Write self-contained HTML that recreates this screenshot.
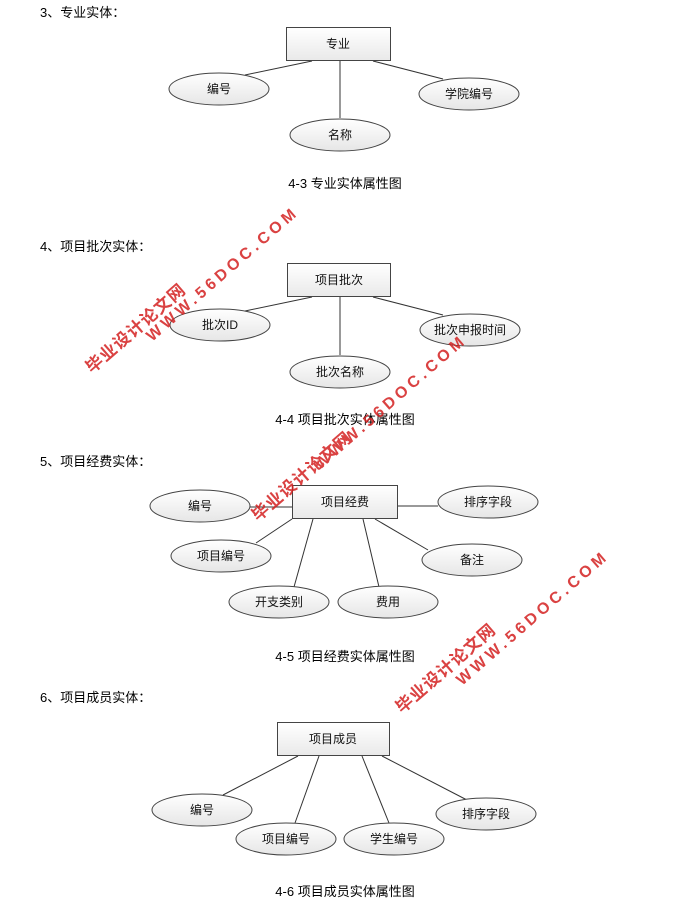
<!DOCTYPE html>
<html><head><meta charset="utf-8"><style>
html,body{margin:0;padding:0;background:#fff;}
svg{display:block}
text{font-family:"Liberation Sans","Noto Sans CJK SC",sans-serif;}
</style></head><body>
<svg width="682" height="913" viewBox="0 0 682 913" xmlns="http://www.w3.org/2000/svg">
<defs>
<linearGradient id="eg" x1="0" y1="0" x2="0" y2="1"><stop offset="0" stop-color="#ffffff"/><stop offset="1" stop-color="#e6e6e6"/></linearGradient>
<linearGradient id="rg" x1="0" y1="0" x2="0" y2="1"><stop offset="0" stop-color="#ffffff"/><stop offset="1" stop-color="#e9e9e9"/></linearGradient>
</defs>
<g font-size="13" fill="#000">
<text x="40" y="17">3、专业实体：</text>
<text x="40" y="251">4、项目批次实体：</text>
<text x="40" y="466">5、项目经费实体：</text>
<text x="40" y="702">6、项目成员实体：</text>
</g>
<g font-size="13" text-anchor="middle" font-family="Liberation Serif,Noto Serif CJK SC,serif">
<text x="345" y="188">4-3 专业实体属性图</text>
<text x="345" y="424">4-4 项目批次实体属性图</text>
<text x="345" y="661">4-5 项目经费实体属性图</text>
<text x="345" y="896">4-6 项目成员实体属性图</text>
</g>
<g stroke="#333" stroke-width="1" fill="none">
<line x1="312" y1="61" x2="245" y2="75"/><line x1="373" y1="61" x2="443" y2="79"/><line x1="340" y1="61" x2="340" y2="118"/>
<line x1="312" y1="297" x2="245" y2="311"/><line x1="373" y1="297" x2="443" y2="315"/><line x1="340" y1="297" x2="340" y2="355"/>
<line x1="250" y1="507" x2="292" y2="507"/><line x1="397" y1="506" x2="438" y2="506"/><line x1="292" y1="519" x2="256" y2="543"/><line x1="375" y1="519" x2="428" y2="550"/><line x1="313" y1="519" x2="294" y2="587"/><line x1="363" y1="519" x2="379" y2="587"/>
<line x1="298" y1="756" x2="223" y2="795"/><line x1="319" y1="756" x2="295" y2="823"/><line x1="362" y1="756" x2="389" y2="823"/><line x1="382" y1="756" x2="467" y2="800"/>
</g>
<g stroke="#444" stroke-width="1" fill="url(#rg)">
<rect x="286.5" y="27.5" width="104" height="33"/>
<rect x="287.5" y="263.5" width="103" height="33"/>
<rect x="292.5" y="485.5" width="105" height="33"/>
<rect x="277.5" y="722.5" width="112" height="33"/>
</g>
<g stroke="#444" stroke-width="1" fill="url(#eg)">
<ellipse cx="219" cy="89" rx="50" ry="16"/><ellipse cx="469" cy="94" rx="50" ry="16"/><ellipse cx="340" cy="135" rx="50" ry="16"/>
<ellipse cx="220" cy="325" rx="50" ry="16"/><ellipse cx="470" cy="330" rx="50" ry="16"/><ellipse cx="340" cy="372" rx="50" ry="16"/>
<ellipse cx="200" cy="506" rx="50" ry="16"/><ellipse cx="488" cy="502" rx="50" ry="16"/><ellipse cx="221" cy="556" rx="50" ry="16"/><ellipse cx="472" cy="560" rx="50" ry="16"/><ellipse cx="279" cy="602" rx="50" ry="16"/><ellipse cx="388" cy="602" rx="50" ry="16"/>
<ellipse cx="202" cy="810" rx="50" ry="16"/><ellipse cx="286" cy="839" rx="50" ry="16"/><ellipse cx="394" cy="839" rx="50" ry="16"/><ellipse cx="486" cy="814" rx="50" ry="16"/>
</g>
<g font-size="12" text-anchor="middle" fill="#111">
<text x="338" y="48">专业</text>
<text x="219" y="93">编号</text><text x="469" y="98">学院编号</text><text x="340" y="139">名称</text>
<text x="339" y="284">项目批次</text>
<text x="220" y="329">批次ID</text><text x="470" y="334">批次申报时间</text><text x="340" y="376">批次名称</text>
<text x="345" y="506">项目经费</text>
<text x="200" y="510">编号</text><text x="488" y="506">排序字段</text><text x="221" y="560">项目编号</text><text x="472" y="564">备注</text><text x="279" y="606">开支类别</text><text x="388" y="606">费用</text>
<text x="333" y="743">项目成员</text>
<text x="202" y="814">编号</text><text x="286" y="843">项目编号</text><text x="394" y="843">学生编号</text><text x="486" y="818">排序字段</text>
</g>
<g fill="#d42020" font-weight="bold" opacity="0.85">
<text transform="translate(152,342) rotate(-41)" font-size="16" letter-spacing="4">WWW.56DOC.COM</text>
<text transform="translate(92,374) rotate(-41)" font-size="17" letter-spacing="1">毕业设计论文网</text>
<text transform="translate(320,470) rotate(-41)" font-size="16" letter-spacing="4">WWW.56DOC.COM</text>
<text transform="translate(258,522) rotate(-41)" font-size="17" letter-spacing="1">毕业设计论文网</text>
<text transform="translate(462,686) rotate(-41)" font-size="16" letter-spacing="4">WWW.56DOC.COM</text>
<text transform="translate(402,714) rotate(-41)" font-size="17" letter-spacing="1">毕业设计论文网</text>
</g>
</svg>
</body></html>
